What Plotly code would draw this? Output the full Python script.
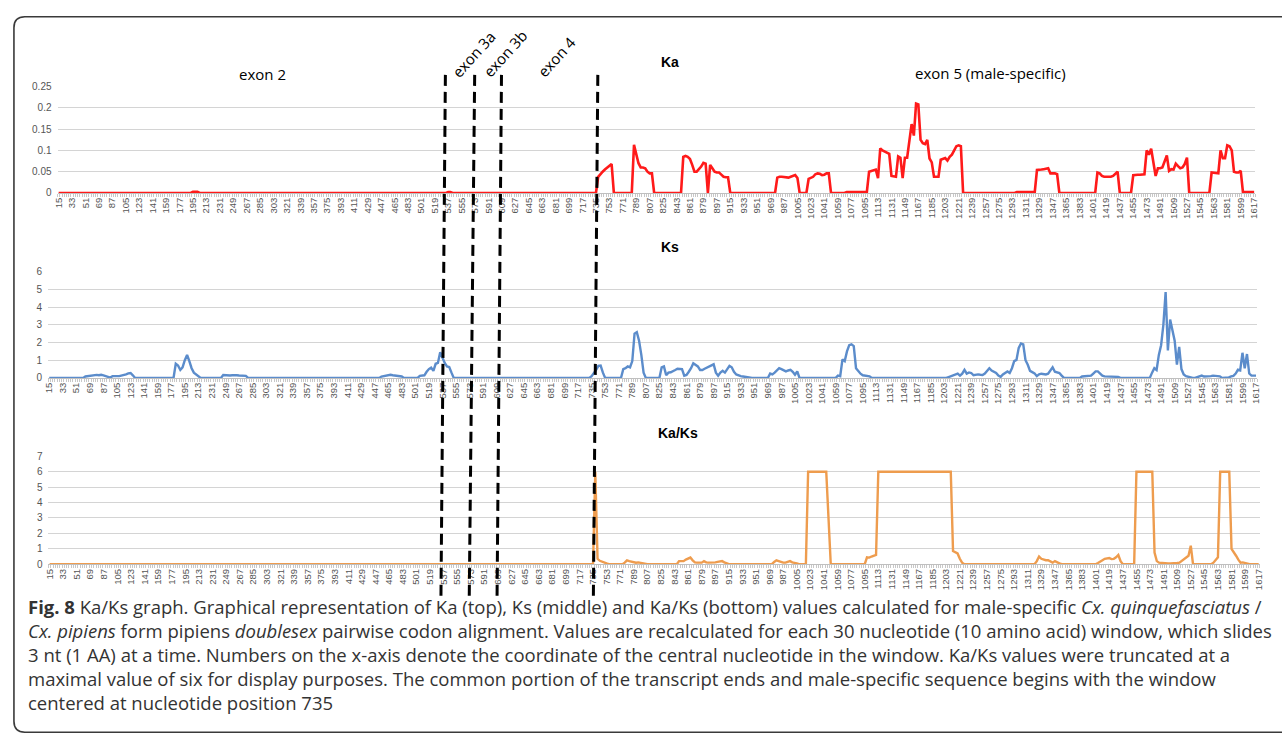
import plotly.graph_objects as go

W, H = 1282, 749

# ---------------- data ----------------
positions = list(range(15, 1618, 3))          # window centres (nt)
tick_labels = list(range(15, 1618, 18))       # labelled categories

# non-zero runs: start position -> consecutive values (step 3 nt); all other windows are 0
ka_runs = {
    195: [0.003, 0.003, 0.003],
    537: [0.002, 0.002],
    738: [0.038, 0.045, 0.05, 0.055, 0.06, 0.065, 0.068],
    786: [0.113, 0.09, 0.07, 0.06, 0.06, 0.058, 0.05, 0.046, 0.046],
    852: [0.085, 0.087, 0.085, 0.08, 0.066, 0.05, 0.05, 0.055, 0.062, 0.071, 0.069],
    888: [0.066, 0.058, 0.05, 0.048, 0.048, 0.043, 0.038, 0.037, 0.037],
    978: [0.036, 0.038, 0.038, 0.037, 0.036, 0.036, 0.038, 0.04, 0.042, 0.035],
    1020: [0.033, 0.035, 0.038, 0.044, 0.046, 0.045, 0.042, 0.043, 0.046, 0.046],
    1071: [0.002, 0.002, 0.002, 0.002, 0.002, 0.002, 0.002, 0.002, 0.002, 0.002],
    1101: [0.05, 0.052, 0.054, 0.055, 0.035, 0.105, 0.1, 0.097, 0.094, 0.092,
           0.04, 0.039, 0.038, 0.086, 0.083, 0.035, 0.083, 0.083, 0.12, 0.162,
           0.135, 0.21, 0.208, 0.125, 0.117, 0.115, 0.125, 0.081, 0.072, 0.038,
           0.038, 0.038, 0.078, 0.08, 0.082, 0.076, 0.085, 0.09, 0.1, 0.11,
           0.112, 0.11],
    1299: [0.002, 0.002, 0.002, 0.002, 0.002, 0.002, 0.002, 0.002, 0.002],
    1326: [0.054, 0.054, 0.055, 0.056, 0.057, 0.058, 0.046, 0.046, 0.046, 0.044],
    1407: [0.048, 0.046, 0.04, 0.038, 0.038, 0.038, 0.038, 0.04, 0.045, 0.05],
    1455: [0.042, 0.043, 0.043, 0.043, 0.043, 0.044, 0.1, 0.09, 0.104, 0.07,
           0.04, 0.058, 0.058, 0.06, 0.075, 0.088, 0.052, 0.056, 0.055, 0.069,
           0.063, 0.058, 0.06, 0.068, 0.083],
    1560: [0.048, 0.047, 0.046, 0.046, 0.1, 0.082, 0.082, 0.112, 0.11, 0.1,
           0.05, 0.048, 0.048, 0.052],
    1602: [0.002, 0.002, 0.002, 0.002, 0.002, 0.002],
}

ks_runs = {
    63: [0.08, 0.1, 0.12, 0.15, 0.15, 0.17, 0.15, 0.18, 0.15, 0.12, 0.05,
         0.02, 0.1, 0.12, 0.1, 0.1, 0.12, 0.15, 0.2, 0.26, 0.28, 0.15],
    183: [0.8, 0.7, 0.45, 0.6, 1.0, 1.3, 0.95, 0.55, 0.3, 0.2, 0.15],
    246: [0.17, 0.15, 0.15, 0.14, 0.15, 0.17, 0.15, 0.14, 0.12, 0.1, 0.12],
    456: [0.08, 0.1, 0.1, 0.15, 0.18, 0.15, 0.13, 0.12, 0.1, 0.08],
    507: [0.12, 0.13, 0.15, 0.35, 0.5, 0.58, 0.4, 0.8, 0.85, 1.45, 1.1, 0.85,
          0.65, 0.62, 0.3],
    735: [0.1, 0.25, 0.45, 0.68, 0.7, 0.3],
    777: [0.5, 0.55, 0.65, 0.6, 0.95, 2.5, 2.58, 2.1, 1.3, 0.3],
    828: [0.6, 0.65, 0.15, 0.3, 0.32, 0.37, 0.45, 0.52, 0.5, 0.5, 0.13, 0.17,
          0.35, 0.55, 0.83, 0.75, 0.65, 0.45, 0.45, 0.52, 0.58, 0.63, 0.7, 0.77,
          0.3, 0.13, 0.3, 0.4, 0.3, 0.5, 0.68, 0.6, 0.35, 0.2, 0.13, 0.1, 0.08, 0.06],
    972: [0.25, 0.2, 0.3, 0.45, 0.55, 0.5, 0.42, 0.37, 0.42, 0.46, 0.35, 0.18, 0.37],
    1062: [0.13, 0.1, 1.05, 0.95, 1.5, 1.85, 1.9, 1.8, 0.55, 0.37, 0.24, 0.15,
           0.13, 0.1, 0.09],
    1209: [0.05, 0.09, 0.13, 0.18, 0.24, 0.13, 0.24, 0.46, 0.24, 0.31, 0.28,
           0.15, 0.18, 0.2, 0.18, 0.17, 0.25, 0.4, 0.55, 0.42, 0.35, 0.28, 0.13,
           0.06, 0.2, 0.3, 0.37, 0.28, 0.55, 0.95, 1.02, 1.7, 1.95, 1.9, 1.0,
           0.74, 0.4, 0.33, 0.26, 0.1, 0.2, 0.24, 0.2, 0.2, 0.24, 0.4, 0.6, 0.35,
           0.3, 0.28, 0.13],
    1386: [0.08, 0.09, 0.09, 0.1, 0.13, 0.25, 0.37, 0.37, 0.25, 0.13, 0.09,
           0.09, 0.09, 0.09, 0.08, 0.07, 0.06],
    1479: [0.3, 0.55, 0.45, 1.3, 1.85, 3.0, 4.85, 1.55, 3.3, 2.7, 2.1, 0.75,
           1.75, 0.5, 0.2, 0.1, 0.06],
    1539: [0.03, 0.08, 0.13, 0.08, 0.08, 0.09, 0.1, 0.13, 0.12, 0.1, 0.09],
    1581: [0.03, 0.09, 0.12, 0.25, 0.46, 0.42, 1.42, 0.55, 1.35, 0.25, 0.13,
           0.13, 0.13],
}

kaks_runs = {
    738: [6.0, 0.35, 0.22, 0.15, 0.1, 0.05],
    777: [0.1, 0.25, 0.2, 0.15, 0.12, 0.1, 0.12, 0.08, 0.05, 0.04],
    849: [0.2, 0.18, 0.2, 0.3, 0.38, 0.43, 0.25, 0.12, 0.1, 0.1, 0.1, 0.2,
          0.12, 0.1, 0.1, 0.12, 0.12, 0.15, 0.2, 0.2, 0.12, 0.05],
    975: [0.15, 0.25, 0.2, 0.13, 0.1, 0.1, 0.15, 0.2, 0.12, 0.1, 0.05],
    1020: [6.0, 6.0, 6.0, 6.0, 6.0, 6.0, 6.0, 6.0, 6.0, 3.0],
    1098: [0.45, 0.43, 0.5, 0.55, 0.6,
           6.0, 6.0, 6.0, 6.0, 6.0, 6.0, 6.0, 6.0, 6.0, 6.0, 6.0,
           6.0, 6.0, 6.0, 6.0, 6.0, 6.0, 6.0, 6.0, 6.0, 6.0, 6.0,
           6.0, 6.0, 6.0, 6.0, 6.0, 6.0, 6.0, 6.0, 6.0, 6.0, 6.0,
           0.86, 0.8, 0.7, 0.35, 0.1],
    1323: [0.2, 0.5, 0.35, 0.3, 0.26, 0.26, 0.15, 0.1, 0.2, 0.1, 0.05],
    1404: [0.08, 0.15, 0.26, 0.35, 0.4, 0.4, 0.33, 0.35, 0.45, 0.6, 0.2],
    1455: [6.0, 6.0, 6.0, 6.0, 6.0, 6.0, 6.0, 6.0, 0.75, 0.2, 0.1, 0.08, 0.05,
           0.05, 0.05, 0.05, 0.05, 0.06, 0.08, 0.1, 0.2, 0.3, 0.4, 0.55, 1.2],
    1557: [0.1, 0.3, 0.45, 6.0, 6.0, 6.0, 6.0, 6.0, 1.0, 0.8, 0.55, 0.3, 0.1,
           0.12, 0.08],
}

ka_ticks = [0, 0.05, 0.1, 0.15, 0.2, 0.25]
ka_ticktext = ["0", "0.05", "0.1", "0.15", "0.2", "0.25"]
ks_ticks = [0, 1, 2, 3, 4, 5, 6]
kaks_ticks = [0, 1, 2, 3, 4, 5, 6, 7]

exon_lines_px = [(443.5, 439.0), (473.0, 467.5), (500.0, 495.5), (597.0, 592.5)]

caption_lines = [
    "<b>Fig. 8</b> Ka/Ks graph. Graphical representation of Ka (top), Ks (middle) and Ka/Ks (bottom) values calculated for male-specific <i>Cx. quinquefasciatus</i> /",
    "<i>Cx. pipiens</i> form pipiens <i>doublesex</i> pairwise codon alignment. Values are recalculated for each 30 nucleotide (10 amino acid) window, which slides",
    "3 nt (1 AA) at a time. Numbers on the x-axis denote the coordinate of the central nucleotide in the window. Ka/Ks values were truncated at a",
    "maximal value of six for display purposes. The common portion of the transcript ends and male-specific sequence begins with the window",
    "centered at nucleotide position 735",
]


def expand(runs):
    vals = {p: 0.0 for p in positions}
    for start, seq in runs.items():
        for i, v in enumerate(seq):
            vals[start + 3 * i] = v
    return [vals[p] for p in positions]


ka = expand(ka_runs)
ks = expand(ks_runs)
kaks = expand(kaks_runs)


def px(x):
    return x / W


def py(y):
    return 1 - y / H


fig = go.Figure()
fig.add_trace(go.Scatter(x=positions, y=ka, mode="lines",
                         line=dict(color="#FF1A1A", width=2.6), xaxis="x", yaxis="y",
                         hoverinfo="skip"))
fig.add_trace(go.Scatter(x=positions, y=ks, mode="lines",
                         line=dict(color="#5B8CCB", width=2.4), xaxis="x2", yaxis="y2",
                         hoverinfo="skip"))
fig.add_trace(go.Scatter(x=positions, y=kaks, mode="lines",
                         line=dict(color="#EE9C4E", width=2.4), xaxis="x3", yaxis="y3",
                         hoverinfo="skip"))

tickfont = dict(family="Liberation Sans", size=9.5, color="#555555")
yfont = dict(family="Liberation Sans", size=10, color="#555555")


def xax(x0, x1, anchor):
    return dict(domain=[px(x0), px(x1)], anchor=anchor, range=[13.5, 1618.5],
                tickmode="array", tickvals=tick_labels,
                ticktext=[str(t) for t in tick_labels],
                tickangle=-90, tickfont=tickfont, showgrid=False, zeroline=False,
                showline=True, linecolor="#bfbfbf", linewidth=1, ticks="",
                minor=dict(ticks="outside", tickmode="linear", tick0=13.5, dtick=3,
                           ticklen=3, tickcolor="#c8c8c8", tickwidth=1, showgrid=False),
                fixedrange=True)


def yax(y_top, y_bot, anchor, rng, vals, text=None):
    d = dict(domain=[py(y_bot), py(y_top)], anchor=anchor, range=rng,
             tickmode="array", tickvals=vals,
             ticktext=text if text else [str(v) for v in vals],
             tickfont=yfont, showgrid=True, gridcolor="#d4d4d4", gridwidth=1,
             zeroline=False, showline=False, ticks="", ticklabelstandoff=5,
             fixedrange=True)
    return d


fig.update_layout(
    width=W, height=H, margin=dict(l=0, r=0, t=0, b=0), autosize=False,
    paper_bgcolor="white", plot_bgcolor="white", showlegend=False,
    xaxis=xax(52.9, 1259.1, "y"),
    yaxis=yax(82, 190, "x", [0, 0.25], ka_ticks, ka_ticktext),
    xaxis2=xax(43.4, 1261.0, "y2"),
    yaxis2=yax(270, 378, "x2", [0, 6], ks_ticks),
    xaxis3=xax(43.8, 1263.7, "y3"),
    yaxis3=yax(457.7, 567.3, "x3", [0, 7], kaks_ticks),
)

shapes = []
for (xt, xb) in exon_lines_px:
    shapes.append(dict(type="line", xref="paper", yref="paper",
                       x0=px(xt), y0=py(70), x1=px(xb), y1=py(604),
                       line=dict(color="black", width=3, dash="11px,6px"),
                       layer="above"))

# rounded outer frame
r = 11
fl, ft, fb, fr = 9, 11, 738, 1295
path = (f"M {px(fr)},{py(ft)} L {px(fl + r)},{py(ft)} "
        f"Q {px(fl)},{py(ft)} {px(fl)},{py(ft + r)} "
        f"L {px(fl)},{py(fb - r)} "
        f"Q {px(fl)},{py(fb)} {px(fl + r)},{py(fb)} "
        f"L {px(fr)},{py(fb)}")
shapes.append(dict(type="path", xref="paper", yref="paper", path=path,
                   line=dict(color="#3a3a3a", width=1.6), layer="above"))
fig.update_layout(shapes=shapes)

ann = []
title_font = dict(family="Liberation Sans", size=14, color="black")
for txt, x, y in [("<b>Ka</b>", 670, 57), ("<b>Ks</b>", 670, 245), ("<b>Ka/Ks</b>", 678, 434)]:
    ann.append(dict(text=txt, x=px(x), y=py(y), xref="paper", yref="paper",
                    xanchor="center", yanchor="middle", showarrow=False, font=title_font))

exon_font = dict(family="Open Sans", size=15, color="black")
ann.append(dict(text="exon 2", x=px(259), y=py(69), xref="paper", yref="paper",
                xanchor="center", yanchor="middle", showarrow=False, font=exon_font))
ann.append(dict(text="exon 5 (male-specific)", x=px(992), y=py(68), xref="paper",
                yref="paper", xanchor="center", yanchor="middle", showarrow=False,
                font=exon_font))
for txt, x, y in [("exon 3a", 472, 49), ("exon 3b", 504, 48), ("exon 4", 555, 52)]:
    ann.append(dict(text=txt, x=px(x), y=py(y), xref="paper", yref="paper",
                    xanchor="center", yanchor="middle", showarrow=False,
                    textangle=-48, font=exon_font))

cap_font = dict(family="Open Sans", size=18.5, color="#333333")
ann.append(dict(text="<br>".join(caption_lines), x=px(21), y=py(659), xref="paper",
                yref="paper", xanchor="left", yanchor="middle", showarrow=False,
                align="left", font=cap_font))

fig.update_layout(annotations=ann)

fig.write_html("out.html", config={"displayModeBar": False},
               post_script="document.body.style.margin='0';document.body.style.overflow='hidden';")
